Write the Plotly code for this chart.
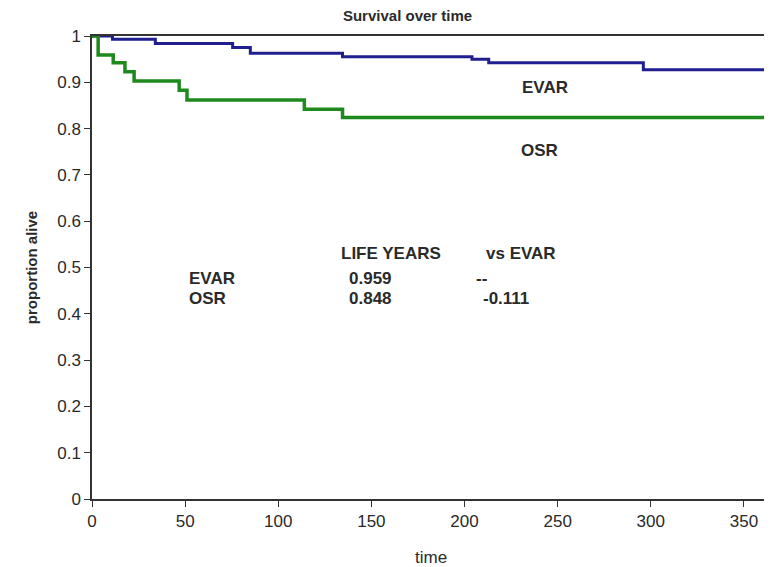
import plotly.graph_objects as go

# EVAR survival (step curve)
evar_t = [0, 11, 34, 75.5, 85, 134.5, 204, 213, 296, 365]
evar_s = [1.0, 0.993, 0.984, 0.975, 0.963, 0.955, 0.950, 0.942, 0.927, 0.927]

# OSR survival (step curve)
osr_t = [0, 3.3, 11.4, 17.7, 22.6, 46.8, 51, 114, 134.5, 365]
osr_s = [1.0, 0.959, 0.942, 0.923, 0.903, 0.883, 0.862, 0.842, 0.824, 0.824]

x_ticks = [0, 50, 100, 150, 200, 250, 300, 350]
y_ticks = [0, 0.1, 0.2, 0.3, 0.4, 0.5, 0.6, 0.7, 0.8, 0.9, 1]
y_tick_labels = ["0", "0.1", "0.2", "0.3", "0.4", "0.5", "0.6", "0.7", "0.8", "0.9", "1"]

series_labels = ["EVAR", "OSR"]
series_label_pos = [(243, 0.888), (240, 0.752)]

table_header = ["LIFE YEARS", "vs EVAR"]
table_rows = ["EVAR", "OSR"]
life_years = ["0.959", "0.848"]
vs_evar = ["--", "-0.111"]

x_title = "time"

FONT = "Liberation Sans, Arial, sans-serif"
BLUE = "#1f1f8f"
GREEN = "#1e8a1e"
TXT = "#2a2a2a"

fig = go.Figure()
fig.add_trace(go.Scatter(x=evar_t, y=evar_s, mode="lines", line=dict(color=BLUE, width=3, shape="hv"), name="EVAR"))
fig.add_trace(go.Scatter(x=osr_t, y=osr_s, mode="lines", line=dict(color=GREEN, width=3.5, shape="hv"), name="OSR"))

ann = []
for lbl, (x, y) in zip(series_labels, series_label_pos):
    ann.append(dict(x=x, y=y, text=f"<b>{lbl}</b>", showarrow=False, font=dict(size=17, color=TXT)))

hdr_x = [160.5, 230.5]
for h, x in zip(table_header, hdr_x):
    ann.append(dict(x=x, y=0.531, text=f"<b>{h}</b>", showarrow=False, font=dict(size=17, color=TXT)))
row_y = [0.477, 0.432]
for r, ly, vs, y in zip(table_rows, life_years, vs_evar, row_y):
    ann.append(dict(x=51, y=y, text=f"<b>{r}</b>", showarrow=False, xanchor="left", font=dict(size=17, color=TXT)))
    ann.append(dict(x=149.7, y=y, text=f"<b>{ly}</b>", showarrow=False, font=dict(size=17, color=TXT)))
    ann.append(dict(x=209 if vs == "--" else 222, y=y, text=f"<b>{vs}</b>", showarrow=False, font=dict(size=17, color=TXT)))

# x-axis title placed below the tick labels
ann.append(dict(x=0.5, xref="paper", y=0, yref="paper", yanchor="middle", yshift=-58, text=x_title,
                showarrow=False, font=dict(size=17, color=TXT)))

# page body has an 8px margin, so the figure is sized/offset to land in the window
fig.update_layout(
    width=764, height=559,
    margin=dict(l=84, r=2, t=28, b=68),
    paper_bgcolor="white", plot_bgcolor="white",
    showlegend=False,
    font=dict(family=FONT, size=17, color=TXT),
    title=dict(text="<b>Survival over time</b>", x=0.523, xanchor="center", y=0.986, yanchor="middle",
               font=dict(size=15, family=FONT, color=TXT)),
    annotations=ann,
    xaxis=dict(range=[0, 364], tickvals=x_ticks, showgrid=False, zeroline=False, automargin=False,
               showline=True, linecolor="#333", linewidth=1.5, mirror=True,
               ticks="outside", ticklen=6, tickcolor="#333",
               tickfont=dict(size=17)),
    yaxis=dict(range=[0, 1], tickvals=y_ticks, ticktext=y_tick_labels, showgrid=False, zeroline=False, automargin=False,
               showline=True, linecolor="#333", linewidth=1.5, mirror=True,
               ticks="outside", ticklen=6, tickcolor="#333",
               title=dict(text="<b>proportion alive</b>", font=dict(size=15, family=FONT), standoff=16),
               tickfont=dict(size=17)),
)

fig.write_html("out.html")
